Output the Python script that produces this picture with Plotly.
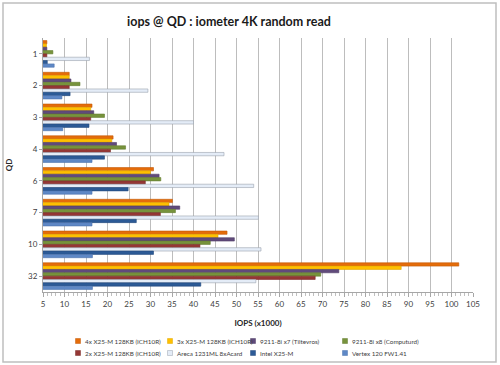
import plotly.graph_objects as go

qd = ["1", "2", "3", "4", "6", "7", "10", "32"]

series_names = [
    "4x X25-M 128KB (ICH10R)",
    "3x X25-M 128KB (ICH10R)",
    "9211-8i x7 (Tiltevros)",
    "9211-8i x8 (Computurd)",
    "2x X25-M 128KB (ICH10R)",
    "Areca 1231ML 8xAcard",
    "Intel X25-M",
    "Vertex 120 FW1.41",
]

x4_x25m = [5.9, 11.1, 16.4, 21.3, 30.7, 35.1, 47.8, 101.7]
x3_x25m = [5.8, 11.1, 16.1, 21.0, 30.0, 34.3, 45.7, 88.3]
lsi_x7 = [5.9, 11.5, 16.8, 22.1, 32.0, 36.8, 49.5, 73.8]
lsi_x8 = [7.3, 13.6, 19.3, 24.2, 32.4, 35.8, 43.9, 69.6]
x2_x25m = [5.9, 11.1, 16.1, 20.7, 28.8, 32.3, 41.5, 68.3]
areca = [15.8, 29.4, 40.0, 47.1, 54.0, 55.1, 55.7, 54.5]
intel = [6.0, 11.3, 15.7, 19.3, 24.8, 26.7, 30.7, 41.7]
vertex = [7.6, 9.4, 9.6, 16.4, 16.4, 16.4, 16.5, 16.5]

x_ticks = list(range(5, 106, 5))

values = [x4_x25m, x3_x25m, lsi_x7, lsi_x8, x2_x25m, areca, intel, vertex]
colors = ["#E46C0A", "#FFC000", "#604A7B", "#77933C", "#953735", "#E4ECF7", "#2C5A96", "#5E88C6"]
lines = ["#C55A08", "#E0A800", "#4F3C66", "#647D31", "#7C2D2B", "#9AA3AE", "#244A7C", "#4D74AE"]

# layout geometry (pixels)
W, H = 500, 365
L, R, T, B = 43, 27, 38, 73
PW, PH = W - L - R, H - T - B


def px_x(p):
    return (p - L) / PW


def px_y(p):
    return (H - B - p) / PH


fig = go.Figure()
for name, vals, c, lc in zip(series_names, values, colors, lines):
    fig.add_trace(go.Bar(
        y=qd, x=vals, name=name, orientation="h", showlegend=False,
        marker=dict(color=c, line=dict(color=lc, width=0.6)),
    ))

font_family = "Lato, 'Open Sans', sans-serif"
fig.update_layout(
    width=W, height=H,
    margin=dict(l=L, r=R, t=T, b=B),
    paper_bgcolor="white", plot_bgcolor="white",
    barmode="group", bargap=0.16, bargroupgap=0,
    font=dict(family=font_family, size=8, color="#404040"),
    title=dict(text="<b>iops @ QD : iometer 4K random read</b>", x=0.458, xanchor="center",
               y=0.942, yanchor="middle", font=dict(size=12.5, color="#1a1a1a")),
    showlegend=False,
)
fig.update_xaxes(
    range=[5, 105], tickvals=x_ticks, ticktext=[str(t) for t in x_ticks],
    showgrid=True, gridcolor="#BDBDBD", gridwidth=1,
    showline=True, linecolor="#A6A6A6", ticks="outside", ticklen=4, tickcolor="#A6A6A6",
    minor=dict(dtick=1, ticks="outside", ticklen=3, tickcolor="#BFBFBF", showgrid=False),
    tickfont=dict(size=8, color="#404040"),
    title=dict(text="<b>IOPS (x1000)</b>", font=dict(size=8, color="#262626"), standoff=12),
    zeroline=False, automargin=False,
)
fig.update_yaxes(
    autorange="reversed", showline=True, linecolor="#A6A6A6",
    ticks="outside", ticklen=3, tickcolor="#A6A6A6",
    tickfont=dict(size=8, color="#404040"),
    title=dict(text="<b>QD</b>", font=dict(size=8, color="#262626"), standoff=14),
    automargin=False,
)

# Excel-style legend: 2 rows x 4 columns, small squares + labels
col_px = [78, 170, 253, 345]
row_px = [341, 353]
for i, (name, c, lc) in enumerate(zip(series_names, colors, lines)):
    cx = col_px[i % 4]
    cy = row_px[i // 4]
    fig.add_shape(type="rect", xref="paper", yref="paper",
                  x0=px_x(cx - 2.5), x1=px_x(cx + 2.5), y0=px_y(cy + 2.5), y1=px_y(cy - 2.5),
                  fillcolor=c, line=dict(color=lc, width=0.5))
    fig.add_annotation(text=name, xref="paper", yref="paper", x=px_x(cx + 4.5), y=px_y(cy),
                       xanchor="left", yanchor="middle", showarrow=False,
                       font=dict(size=6.3, color="#404040"))

fig.add_shape(type="rect", xref="paper", yref="paper",
              x0=px_x(3), x1=px_x(496), y0=px_y(362), y1=px_y(3),
              line=dict(color="#BFBFBF", width=1.5), fillcolor="rgba(0,0,0,0)", layer="below")

fig.write_html("out.html", config={"displayModeBar": False},
               post_script="document.body.style.margin='0';document.body.style.padding='0';")
